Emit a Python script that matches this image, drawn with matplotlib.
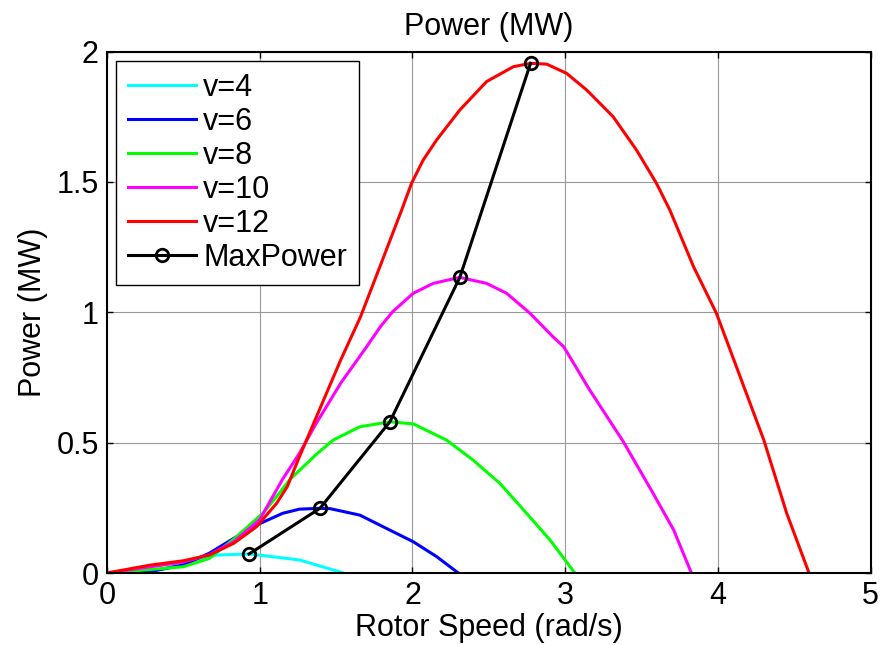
import matplotlib
matplotlib.use('Agg')
import matplotlib.pyplot as plt

plt.rcParams['font.family'] = ['Liberation Sans', 'DejaVu Sans']

# rotor speed (rad/s) and power (MW)
w_v4 = [0, 0.22, 0.39, 0.565, 0.72, 0.93, 1.15, 1.26, 1.37, 1.52, 1.547]
p_v4 = [0, 0.0, 0.018, 0.05, 0.069, 0.073, 0.058, 0.05, 0.031, 0.005, 0]

w_v6 = [0, 0.28, 0.5, 0.67, 0.83, 0.98, 1.15, 1.26, 1.39, 1.46, 1.656, 1.83, 2.005, 2.158, 2.3]
p_v6 = [0, 0.005, 0.031, 0.076, 0.133, 0.184, 0.229, 0.245, 0.248, 0.247, 0.222, 0.171, 0.12, 0.063, 0]

w_v8 = [0, 0.5, 0.67, 0.83, 1.02, 1.11, 1.2, 1.263, 1.37, 1.481, 1.656, 1.852, 2.005, 2.223, 2.397,
        2.572, 2.747, 2.9, 3.063]
p_v8 = [0, 0.024, 0.056, 0.13, 0.229, 0.293, 0.36, 0.395, 0.455, 0.51, 0.561, 0.58, 0.572, 0.51, 0.433,
        0.344, 0.229, 0.127, 0]

w_v10 = [0, 0.5, 0.67, 0.83, 1.0, 1.15, 1.26, 1.37, 1.53, 1.7, 1.79, 1.87, 2.005, 2.136, 2.31, 2.485,
         2.616, 2.77, 2.92, 2.99, 3.16, 3.38, 3.575, 3.71, 3.826]
p_v10 = [0, 0.042, 0.07, 0.12, 0.205, 0.36, 0.459, 0.574, 0.728, 0.868, 0.945, 1.002, 1.073, 1.111,
         1.134, 1.111, 1.073, 0.996, 0.906, 0.868, 0.702, 0.504, 0.306, 0.165, 0]

w_v12 = [0, 0.28, 0.5, 0.67, 0.83, 0.98, 1.11, 1.18, 1.26, 1.39, 1.53, 1.66, 1.79, 1.929, 1.994, 2.07,
         2.158, 2.31, 2.485, 2.66, 2.773, 2.878, 3.008, 3.14, 3.314, 3.467, 3.597, 3.685, 3.84, 3.99,
         4.08, 4.3, 4.45, 4.596]
p_v12 = [0, 0.03, 0.047, 0.069, 0.114, 0.178, 0.267, 0.331, 0.446, 0.625, 0.817, 0.983, 1.18, 1.392,
         1.495, 1.584, 1.661, 1.776, 1.885, 1.942, 1.955, 1.952, 1.917, 1.853, 1.75, 1.622, 1.495,
         1.392, 1.175, 0.996, 0.855, 0.51, 0.229, 0]

w_max = [0.93, 1.394, 1.852, 2.31, 2.773]
p_max = [0.073, 0.248, 0.58, 1.134, 1.955]

fig = plt.figure(figsize=(8.84, 6.45), dpi=100)
ax = fig.add_axes([0.121, 0.1116, 0.864, 0.8084])

ax.plot(w_v4, p_v4, color='#00FFFF', lw=2.2, label='v=4')
ax.plot(w_v6, p_v6, color='#0000FF', lw=2.2, label='v=6')
ax.plot(w_v8, p_v8, color='#00FF00', lw=2.2, label='v=8')
ax.plot(w_v10, p_v10, color='#FF00FF', lw=2.2, label='v=10')
ax.plot(w_v12, p_v12, color='#FF0000', lw=2.2, label='v=12')
ax.plot(w_max, p_max, color='black', lw=2.2, marker='o', markersize=9,
        markerfacecolor='none', markeredgewidth=2, label='MaxPower')

ax.set_xlim(0, 5)
ax.set_ylim(0, 2)
ax.set_xticks([0, 1, 2, 3, 4, 5])
ax.set_yticks([0, 0.5, 1, 1.5, 2])
ax.set_yticklabels(['0', '0.5', '1', '1.5', '2'])
ax.tick_params(direction='in', top=True, right=True, labelsize=22, length=4, width=1)
ax.tick_params(axis='x', pad=6)
ax.tick_params(axis='y', pad=6)
ax.grid(True, color='#999999', lw=0.8)
for s in ax.spines.values():
    s.set_linewidth(1.5)

ax.set_xlabel('Rotor Speed (rad/s)', fontsize=22, labelpad=1)
ax.set_ylabel('Power (MW)', fontsize=22, labelpad=6)
ax.set_title('Power (MW)', fontsize=22, pad=12)

leg = ax.legend(loc='upper left', fontsize=22, handlelength=2.2, labelspacing=0.13,
                fancybox=False, edgecolor='black', framealpha=1, borderaxespad=0.3,
                handletextpad=0.25, borderpad=0.4)
leg.get_frame().set_linewidth(1.0)

fig.savefig('out.png', dpi=100)
